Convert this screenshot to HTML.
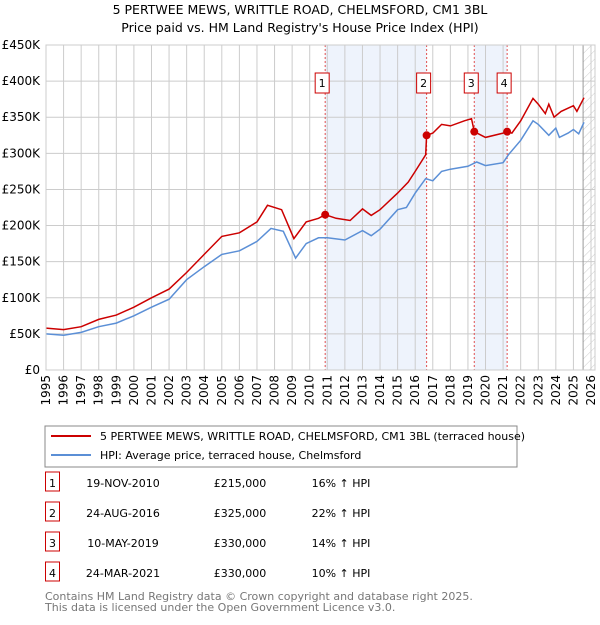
<!DOCTYPE html>
<html><head><meta charset="utf-8"><style>
body{margin:0;background:#fff;font-family:"Liberation Sans","DejaVu Sans",sans-serif;}
svg text{font-family:"DejaVu Sans","Liberation Sans",sans-serif;}
</style></head><body>
<svg id="c" width="600" height="620" xmlns="http://www.w3.org/2000/svg">
<text x="300" y="14" text-anchor="middle" font-size="12.5">5 PERTWEE MEWS, WRITTLE ROAD, CHELMSFORD, CM1 3BL</text>
<text x="300" y="32" text-anchor="middle" font-size="12.5">Price paid vs. HM Land Registry's House Price Index (HPI)</text>
<g id="plot"></g>
<rect x="45" y="426" width="472" height="41" fill="#fff" stroke="#888"/>
<line x1="51" y1="436" x2="91" y2="436" stroke="#cc0000" stroke-width="2"/>
<text x="100" y="440" font-size="11">5 PERTWEE MEWS, WRITTLE ROAD, CHELMSFORD, CM1 3BL (terraced house)</text>
<line x1="51" y1="455" x2="91" y2="455" stroke="#5b8fd6" stroke-width="2"/>
<text x="100" y="459" font-size="11">HPI: Average price, terraced house, Chelmsford</text>
<g id="table" font-size="11"></g>
<text x="45" y="600" font-size="11" fill="#777">Contains HM Land Registry data © Crown copyright and database right 2025.</text>
<text x="45" y="611" font-size="11" fill="#777">This data is licensed under the Open Government Licence v3.0.</text>
</svg>
<script>
const hpiYears=[1995,1996,1997,1998,1999,2000,2001,2002,2003,2004,2005,2006,2007,2007.8,2008.5,2009.2,2009.8,2010.5,2011,2012,2013,2013.5,2014,2015,2015.5,2016,2016.6,2017,2017.5,2018,2019,2019.5,2020,2021,2021.3,2022,2022.7,2023,2023.6,2024,2024.2,2024.7,2025,2025.3,2025.6];
const hpiValues=[50,48,52,60,65,75,87,98,125,143,160,165,178,196,192,155,175,183,183,180,193,186,195,222,225,245,265,262,275,278,282,288,283,287,298,318,345,340,325,335,322,328,333,327,343];
const priceYears=[1995,1996,1997,1998,1999,2000,2001,2002,2003,2004,2005,2006,2007,2007.6,2008.4,2009.1,2009.8,2010.5,2010.88,2011.5,2012.3,2013,2013.5,2014,2015,2015.6,2016,2016.6,2016.65,2017,2017.5,2018,2018.8,2019.2,2019.36,2020,2021,2021.23,2021.5,2022,2022.7,2023,2023.4,2023.6,2023.9,2024.3,2025,2025.2,2025.6];
const priceValues=[58,56,60,70,76,87,100,112,135,160,185,190,205,228,222,182,205,210,215,210,207,223,214,222,245,260,275,298,325,328,340,338,345,348,330,322,328,330,328,345,376,368,355,368,350,358,366,358,377];
const saleLabels=["1","2","3","4"];
const saleYears=[2010.88,2016.65,2019.36,2021.23];
const saleValues=[215,325,330,330];
const saleDates=["19-NOV-2010","24-AUG-2016","10-MAY-2019","24-MAR-2021"];
const salePrices=["£215,000","£325,000","£330,000","£330,000"];
const saleHpi=["16% ↑ HPI","22% ↑ HPI","14% ↑ HPI","10% ↑ HPI"];
const yTicks=[0,50,100,150,200,250,300,350,400,450];
const yTickLabels=["£0","£50K","£100K","£150K","£200K","£250K","£300K","£350K","£400K","£450K"];
const xTicks=[1995,1996,1997,1998,1999,2000,2001,2002,2003,2004,2005,2006,2007,2008,2009,2010,2011,2012,2013,2014,2015,2016,2017,2018,2019,2020,2021,2022,2023,2024,2025,2026];

const L=46,R=591,T=45,B=370;
const xs=y=>L+(y-1995)/(2026-1995)*(R-L);
const ys=v=>B-v/450*(B-T);
const NS="http://www.w3.org/2000/svg";
const g=document.getElementById('plot');
function mk(tag,attrs,parent){const e=document.createElementNS(NS,tag);for(const k in attrs)e.setAttribute(k,attrs[k]);(parent||g).appendChild(e);return e;}

for(const [a,b] of [[0,1],[2,3]]){
  const r=mk('rect',{x:xs(saleYears[a]),y:T,width:xs(saleYears[b])-xs(saleYears[a]),height:B-T,fill:'#eef3fc'});
  
  
}
const defs=mk('defs',{});
const pat=mk('pattern',{id:'h',width:6,height:6,patternUnits:'userSpaceOnUse',patternTransform:'rotate(45)'},defs);
mk('line',{x1:0,y1:0,x2:0,y2:6,stroke:'#ccc','stroke-width':1},pat);
const hr=mk('rect',{x:xs(2025.55),y:T,width:R+4-xs(2025.55),height:B-T,fill:'url(#h)'});


yTicks.forEach((v,i)=>{
  const l=mk('line',{x1:L,x2:R+4,y1:ys(v),y2:ys(v),stroke:'#ccc'});
  
  
  const t=mk('text',{x:L-6,y:ys(v)+4,'text-anchor':'end','font-size':'12'});
  t.textContent=yTickLabels[i];
  
  
});
xTicks.forEach(y=>{
  const l=mk('line',{x1:xs(y),x2:xs(y),y1:T,y2:B,stroke:'#ccc'});
  
  
  const t=mk('text',{x:0,y:0,'text-anchor':'end','font-size':'12',transform:`translate(${xs(y)+4},${B+5}) rotate(-90)`});
  t.textContent=y;
  
  
});
const ax=mk('line',{x1:xs(2025.55),x2:xs(2025.55),y1:T,y2:B,stroke:'#999'});


saleYears.forEach((y,i)=>{
  const l=mk('line',{x1:xs(y),x2:xs(y),y1:T,y2:B,stroke:'#e05050','stroke-dasharray':'2,2'});
  
  
});
function path(xa,va,color,name){
  const d=xa.map((y,i)=>(i?'L':'M')+xs(y).toFixed(1)+','+ys(va[i]).toFixed(1)).join('');
  const p=mk('path',{d,fill:'none',stroke:color,'stroke-width':1.5});
  
  
}
path(hpiYears,hpiValues,'#5b8fd6','hpi-line');
path(priceYears,priceValues,'#cc0000','price-line');
saleYears.forEach((y,i)=>{
  const c=mk('circle',{cx:xs(y),cy:ys(saleValues[i]),r:4,fill:'#cc0000'});
  
  
  const bx=xs(y)-10;
  const r=mk('rect',{x:bx,y:73,width:14,height:20,fill:'#fff',stroke:'#cc0000'});
  
  
  const t=mk('text',{x:bx+7,y:87,'text-anchor':'middle','font-size':'11'});
  t.textContent=saleLabels[i];
  
  
});
mk('rect',{x:L,y:T,width:R+4-L,height:B-T,fill:'none',stroke:'#ccc'});
const tg=document.getElementById('table');
saleLabels.forEach((s,i)=>{
  const y=483+i*30;
  const r=mk('rect',{x:45.5,y:y-11,width:14,height:19,fill:'#fff',stroke:'#cc0000'},tg);
  
  
  const vals=[[52.5,s,'middle'],[123,saleDates[i],'middle'],[240,salePrices[i],'middle'],[341,saleHpi[i],'middle']];
  vals.forEach(v=>{
    const t=mk('text',{x:v[0],y:y+4,'text-anchor':v[2]},tg);
    t.textContent=v[1];
    
    
  });
});
</script>
</body></html>
